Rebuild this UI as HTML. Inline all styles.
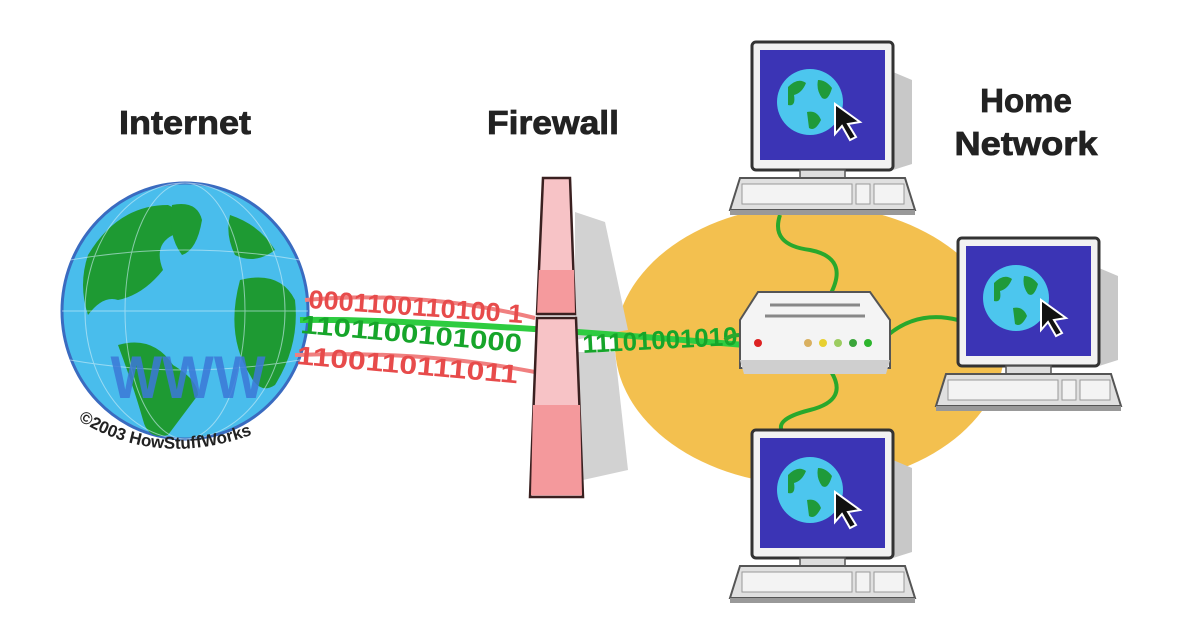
<!DOCTYPE html>
<html><head><meta charset="utf-8"><style>
html,body{margin:0;padding:0;background:#fff;width:1189px;height:619px;overflow:hidden}
svg{display:block}
text{font-family:"Liberation Sans",Arial,sans-serif}
</style></head><body>
<svg width="1189" height="619" viewBox="0 0 1189 619" xmlns="http://www.w3.org/2000/svg">
<defs>
<g id="pc">
  <polygon points="141,30 160,38 160,122 141,128" fill="#c8c8c8"/>
  <rect x="0" y="0" width="141" height="128" rx="4" fill="#f2f2f2" stroke="#333" stroke-width="3"/>
  <rect x="8" y="8" width="125" height="110" fill="#3b34b5"/>
  <circle cx="58" cy="60" r="33" fill="#4cc6ee"/>
  <path d="M36,45 q10,-10 18,-4 q-4,10 -12,12 q2,12 -6,10 z M55,70 q10,-2 14,8 q-6,12 -12,8 z M66,38 q8,0 14,8 q-4,14 -10,10 q-6,-8 -4,-18 z" fill="#1f9a3a"/>
  <polygon points="83,62 83,92 90,84 98,98 104,95 96,82 108,80" fill="#111" stroke="#fff" stroke-width="2"/>
  <rect x="48" y="128" width="45" height="8" fill="#ddd" stroke="#555" stroke-width="1.5"/>
  <polygon points="-12,136 153,136 163,168 -22,168" fill="#e0e0e0" stroke="#555" stroke-width="2"/>
  <rect x="-10" y="142" width="110" height="20" fill="#f3f3f3" stroke="#999"/>
  <rect x="104" y="142" width="14" height="20" fill="#f3f3f3" stroke="#999"/>
  <rect x="122" y="142" width="30" height="20" fill="#f3f3f3" stroke="#999"/>
  <rect x="-22" y="168" width="185" height="5" fill="#999"/>
</g>
</defs>

<g font-weight="bold" fill="#222" text-anchor="middle" stroke="#222" stroke-width="0.8">
<text x="185" y="134" font-size="33" textLength="132" lengthAdjust="spacingAndGlyphs">Internet</text>
<text x="553" y="134" font-size="33" textLength="132" lengthAdjust="spacingAndGlyphs">Firewall</text>
<text x="1026" y="112" font-size="33">Home</text>
<text x="1026" y="155" font-size="33" textLength="143" lengthAdjust="spacingAndGlyphs">Network</text>
</g>

<ellipse cx="810" cy="345" rx="195" ry="140" fill="#f3c04f"/>

<polygon points="575,212 605,222 628,330 600,335 575,340" fill="#d2d2d2"/>
<polygon points="577,352 615,352 628,470 583,480" fill="#d2d2d2"/>

<ellipse cx="185" cy="311" rx="123" ry="128" fill="#49bdec" stroke="#3a6bc0" stroke-width="3"/>
<g fill="#1e9a33">
  <path d="M88,255 q30,-50 80,-50 q20,8 5,30 q-20,10 -10,35 q-20,25 -45,30 q-15,-5 -30,15 q-10,-30 0,-60z"/>
  <path d="M172,205 q25,-5 30,15 q-5,30 -20,35 q-15,-20 -10,-50z"/>
  <path d="M118,345 q35,-10 55,20 q25,15 25,30 q-15,20 -30,40 q-20,5 -25,-15 q-10,-35 -25,-75z"/>
  <path d="M240,280 q40,-10 55,20 q5,45 -20,85 q-15,10 -25,-10 q-25,-40 -10,-95z"/>
  <path d="M230,215 q30,10 45,35 q-20,15 -40,5 q-10,-20 -5,-40z"/>
</g>
<g stroke="#cfeef8" stroke-width="1" fill="none" opacity="0.6">
  <ellipse cx="185" cy="311" rx="60" ry="128"/>
  <ellipse cx="185" cy="311" rx="100" ry="128"/>
  <line x1="62" y1="311" x2="308" y2="311"/>
  <path d="M70,260 q115,-20 230,0 M70,360 q115,20 230,0"/>
</g>
<text x="188" y="398" font-size="60" font-weight="bold" text-anchor="middle" fill="#3c78d8" opacity="0.85" textLength="155" lengthAdjust="spacingAndGlyphs">WWW</text>
<path id="cp" d="M78,420 Q175,480 295,415" fill="none"/>
<text font-size="17" font-weight="bold" fill="#222"><textPath href="#cp">©2003 HowStuffWorks</textPath></text>

<g font-weight="bold" font-size="26">
  <path d="M305,300 Q420,290 535,318" stroke="#f08080" stroke-width="4" fill="none"/>
  <text x="308" y="308" fill="#e74b4b" transform="rotate(4 308 308)" textLength="215" lengthAdjust="spacingAndGlyphs">0001100110100 1</text>
  <path d="M300,320 Q420,318 745,345" stroke="#2ecc40" stroke-width="6" fill="none"/>
  <text x="300" y="333" fill="#16a52a" transform="rotate(5 300 333)" textLength="222" lengthAdjust="spacingAndGlyphs">1101100101000</text>
  <path d="M295,355 Q420,350 535,372" stroke="#f08080" stroke-width="4" fill="none"/>
  <text x="296" y="364" fill="#e74b4b" transform="rotate(5 296 364)" textLength="222" lengthAdjust="spacingAndGlyphs">1100110111011</text>
  <text x="583" y="353" fill="#16a52a" transform="rotate(-3 583 353)" textLength="155" lengthAdjust="spacingAndGlyphs">11101001010</text>
</g>

<polygon points="543,178 570,178 575,314 537,314" fill="#f7c3c6" stroke="#3a2020" stroke-width="2.5"/>
<polygon points="539,270 574,270 575,314 537,314" fill="#f59a9d"/>
<polygon points="537,318 576,318 583,497 530,497" fill="#f7c3c6" stroke="#3a2020" stroke-width="2.5"/>
<polygon points="533,405 580,405 582,495 531,495" fill="#f4999c"/>
<line x1="537" y1="314" x2="575" y2="314" stroke="#3a2020" stroke-width="2.5"/>

<g stroke="#29a82c" stroke-width="4" fill="none">
  <path d="M780,215 q-10,30 30,35 q40,8 20,45"/>
  <path d="M830,370 q20,30 -20,40 q-40,10 -25,25"/>
  <path d="M888,335 q30,-25 70,-15"/>
  <path d="M740,335 q-10,0 -15,5"/>
</g>

<polygon points="758,292 870,292 890,320 890,368 740,368 740,320" fill="#f4f4f4" stroke="#555" stroke-width="2"/>
<polygon points="740,360 890,360 886,374 744,374" fill="#cfcfcf"/>
<line x1="770" y1="305" x2="860" y2="305" stroke="#888" stroke-width="3"/>
<line x1="765" y1="316" x2="865" y2="316" stroke="#888" stroke-width="3"/>
<circle cx="758" cy="343" r="4" fill="#d22"/>
<circle cx="808" cy="343" r="4" fill="#d9b060"/>
<circle cx="823" cy="343" r="4" fill="#e8d030"/>
<circle cx="838" cy="343" r="4" fill="#9ccc60"/>
<circle cx="853" cy="343" r="4" fill="#3aa53a"/>
<circle cx="868" cy="343" r="4" fill="#2db52d"/>

<use href="#pc" transform="translate(752,42)"/>
<use href="#pc" transform="translate(958,238)"/>
<use href="#pc" transform="translate(752,430)"/>
</svg>
</body></html>
